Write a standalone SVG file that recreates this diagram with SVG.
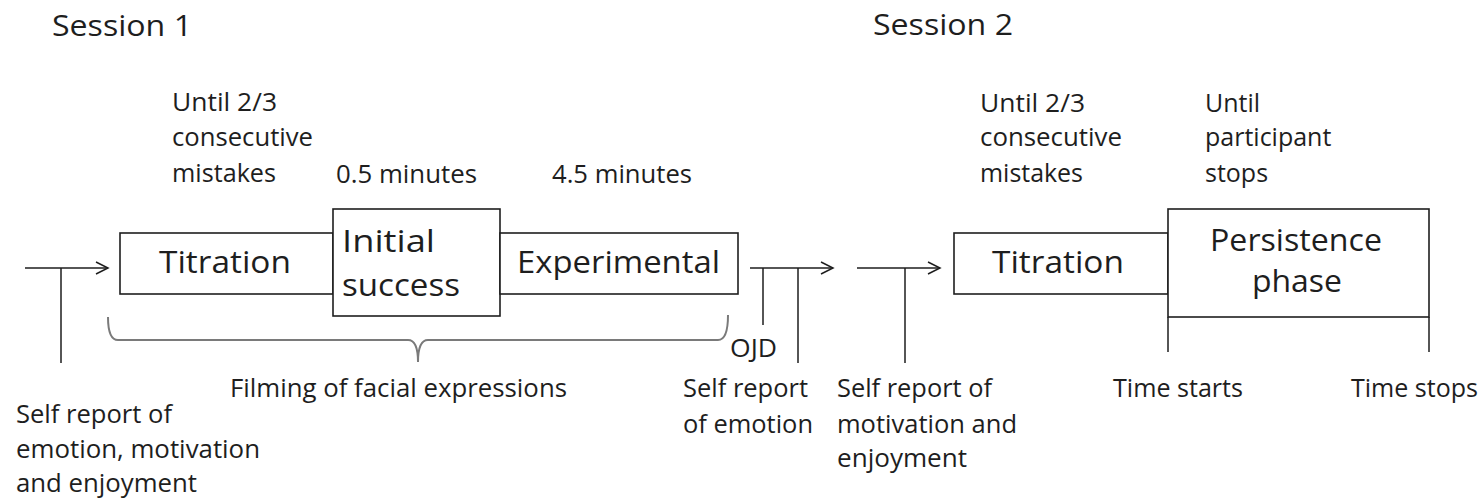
<svg xmlns="http://www.w3.org/2000/svg" width="1483" height="501" viewBox="0 0 1483 501">
<style>
.t{font-family:"Open Sans","Liberation Sans",sans-serif;fill:#1e1e1e}
.h{font-size:30px}
.s{font-size:25px}
.b{font-size:31px}
.box{fill:#fff;stroke:#1e1e1e;stroke-width:1.6}
.ln{fill:none;stroke:#1e1e1e;stroke-width:1.5}
.br{fill:none;stroke:#7a7a7a;stroke-width:2}
</style>
<defs>
<marker id="arr" markerUnits="userSpaceOnUse" markerWidth="16" markerHeight="16" refX="14" refY="8" orient="auto">
<path d="M2,2 L14,8 L2,14" fill="none" stroke="#1e1e1e" stroke-width="1.5"/>
</marker>
</defs>
<rect width="1483" height="501" fill="#fff"/>
<g id="headings">
<text class="t h" x="52" y="36" textLength="140" lengthAdjust="spacingAndGlyphs">Session 1</text>
<text class="t h" x="873" y="35" textLength="140" lengthAdjust="spacingAndGlyphs">Session 2</text>
</g>
<g id="connectors">
<line class="ln" x1="25" y1="268" x2="108" y2="268" marker-end="url(#arr)"/>
<line class="ln" x1="61" y1="268" x2="61" y2="363"/>
<line class="ln" x1="750" y1="268" x2="833" y2="268" marker-end="url(#arr)"/>
<line class="ln" x1="763" y1="268" x2="763" y2="325"/>
<line class="ln" x1="798" y1="268" x2="798" y2="363"/>
<line class="ln" x1="857" y1="268" x2="940" y2="268" marker-end="url(#arr)"/>
<line class="ln" x1="905" y1="268" x2="905" y2="363"/>
<line class="ln" x1="1168" y1="317" x2="1168" y2="352"/>
<line class="ln" x1="1429" y1="317" x2="1429" y2="352"/>
<path class="br" d="M108,317 Q108,340 118,340 L408,340 Q418,340 418,362 Q418,340 428,340 L718,340 Q728,340 728,315"/>
</g>
<g id="titration1">
<rect class="box" x="120" y="233" width="213" height="61"/>
<text class="t b" x="159" y="273" textLength="132" lengthAdjust="spacingAndGlyphs">Titration</text>
</g>
<g id="initial-success">
<rect class="box" x="333" y="209" width="167" height="107"/>
<text class="t b" x="342" y="252" textLength="93" lengthAdjust="spacingAndGlyphs">Initial</text>
<text class="t b" x="342" y="296" textLength="118" lengthAdjust="spacingAndGlyphs">success</text>
</g>
<g id="experimental">
<rect class="box" x="500" y="233" width="238" height="61"/>
<text class="t b" x="517" y="273" textLength="203" lengthAdjust="spacingAndGlyphs">Experimental</text>
</g>
<g id="titration2">
<rect class="box" x="954" y="233" width="214" height="61"/>
<text class="t b" x="992" y="273" textLength="132" lengthAdjust="spacingAndGlyphs">Titration</text>
</g>
<g id="persistence">
<rect class="box" x="1168" y="209" width="261" height="108"/>
<text class="t b" x="1210" y="251" textLength="172" lengthAdjust="spacingAndGlyphs">Persistence</text>
<text class="t b" x="1252" y="292" textLength="90" lengthAdjust="spacingAndGlyphs">phase</text>
</g>
<g id="labels-top">
<text class="t s" x="172" y="111" textLength="105" lengthAdjust="spacingAndGlyphs">Until 2/3</text>
<text class="t s" x="172" y="146" textLength="141" lengthAdjust="spacingAndGlyphs">consecutive</text>
<text class="t s" x="172" y="182" textLength="104" lengthAdjust="spacingAndGlyphs">mistakes</text>
<text class="t s" x="336" y="183" textLength="141" lengthAdjust="spacingAndGlyphs">0.5 minutes</text>
<text class="t s" x="552" y="183" textLength="140" lengthAdjust="spacingAndGlyphs">4.5 minutes</text>
<text class="t s" x="980" y="112" textLength="105" lengthAdjust="spacingAndGlyphs">Until 2/3</text>
<text class="t s" x="980" y="146" textLength="142" lengthAdjust="spacingAndGlyphs">consecutive</text>
<text class="t s" x="980" y="182" textLength="103" lengthAdjust="spacingAndGlyphs">mistakes</text>
<text class="t s" x="1205" y="112" textLength="55" lengthAdjust="spacingAndGlyphs">Until</text>
<text class="t s" x="1205" y="146">participant</text>
<text class="t s" x="1205" y="182">stops</text>
</g>
<g id="labels-bottom">
<text class="t s" x="230" y="397" textLength="337" lengthAdjust="spacingAndGlyphs">Filming of facial expressions</text>
<text class="t s" x="16" y="423" textLength="156" lengthAdjust="spacingAndGlyphs">Self report of</text>
<text class="t s" x="16" y="458" textLength="244" lengthAdjust="spacingAndGlyphs">emotion, motivation</text>
<text class="t s" x="16" y="492" textLength="181" lengthAdjust="spacingAndGlyphs">and enjoyment</text>
<text class="t s" x="730" y="357" textLength="47" lengthAdjust="spacingAndGlyphs">OJD</text>
<text class="t s" x="683" y="397" textLength="125" lengthAdjust="spacingAndGlyphs">Self report</text>
<text class="t s" x="683" y="433" textLength="130" lengthAdjust="spacingAndGlyphs">of emotion</text>
<text class="t s" x="837" y="397" textLength="155" lengthAdjust="spacingAndGlyphs">Self report of</text>
<text class="t s" x="837" y="433" textLength="180" lengthAdjust="spacingAndGlyphs">motivation and</text>
<text class="t s" x="837" y="467" textLength="130" lengthAdjust="spacingAndGlyphs">enjoyment</text>
<text class="t s" x="1113" y="397" textLength="130" lengthAdjust="spacingAndGlyphs">Time starts</text>
<text class="t s" x="1351" y="397" textLength="127" lengthAdjust="spacingAndGlyphs">Time stops</text>
</g>
</svg>
